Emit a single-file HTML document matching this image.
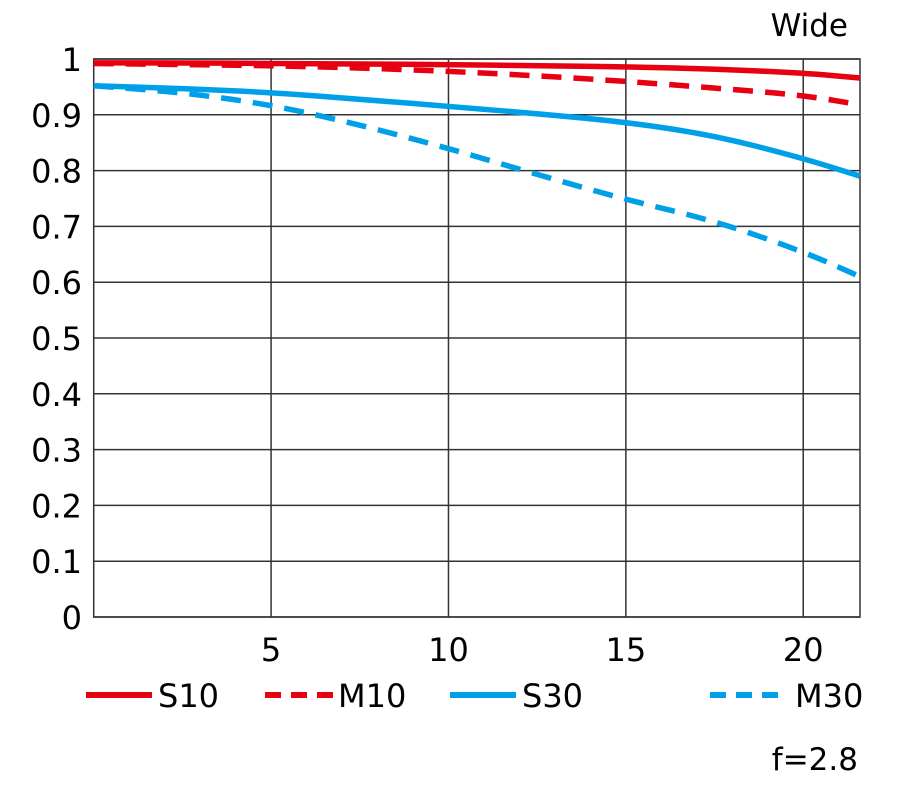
<!DOCTYPE html>
<html><head><meta charset="utf-8"><style>
body{margin:0;background:#fff;}
svg text{font-family:"DejaVu Sans","Liberation Sans",sans-serif;fill:#000;}
</style></head><body>
<svg id="chart" width="900" height="787" xmlns="http://www.w3.org/2000/svg">
<g id="grid"></g><g id="series"></g><g id="labels"></g>
<text x="848" y="36" font-size="31" text-anchor="end">Wide</text>
<text x="858" y="770" font-size="31" text-anchor="end">f=2.8</text>
<g>
<line x1="86" y1="695" x2="152" y2="695" stroke="#e60012" stroke-width="6"/>
<text x="158" y="707" font-size="32">S10</text>
<line x1="265" y1="695" x2="333" y2="695" stroke="#e60012" stroke-width="6" stroke-dasharray="16 10"/>
<text x="338" y="707" font-size="32">M10</text>
<line x1="450" y1="695" x2="516" y2="695" stroke="#00a0e9" stroke-width="6"/>
<text x="522" y="707" font-size="32">S30</text>
<line x1="710" y1="695" x2="788" y2="695" stroke="#00a0e9" stroke-width="6" stroke-dasharray="16 10"/>
<text x="795" y="707" font-size="32">M30</text>
</g>
</svg>
<script>
const xs=[0,2.5,5,7.5,10,12.5,15,17.5,20,21.6];
const s10=[0.993,0.993,0.992,0.991,0.99,0.988,0.986,0.982,0.975,0.966];
const m10=[0.992,0.99,0.988,0.984,0.978,0.97,0.96,0.948,0.935,0.918];
const s30=[0.952,0.947,0.94,0.928,0.915,0.902,0.887,0.863,0.822,0.79];
const m30=[0.952,0.94,0.918,0.882,0.84,0.793,0.748,0.71,0.655,0.61];
const xTicks=[5,10,15,20];
const yTicks=[0,0.1,0.2,0.3,0.4,0.5,0.6,0.7,0.8,0.9,1];
const yTickLabels=["0","0.1","0.2","0.3","0.4","0.5","0.6","0.7","0.8","0.9","1"];
const X0=93.7,X1=860,Y0=617,Y1=59,XMAX=21.6;
const sx=v=>X0+v/XMAX*(X1-X0), sy=v=>Y0-v*(Y0-Y1);
const NS="http://www.w3.org/2000/svg";
function mk(tag,attrs,parent){const e=document.createElementNS(NS,tag);for(const k in attrs)e.setAttribute(k,attrs[k]);document.getElementById(parent).appendChild(e);return e;}
yTicks.forEach((t,i)=>{
 const l=mk('line',{x1:X0,x2:X1,y1:sy(t),y2:sy(t),stroke:'#333','stroke-width':1.5},'grid');
 
 
 const tx=mk('text',{x:82,y:sy(t)+12,'font-size':32,'text-anchor':'end'},'labels');
 tx.textContent=yTickLabels[i];
 
 
});
xTicks.forEach(t=>{
 const l=mk('line',{x1:sx(t),x2:sx(t),y1:Y1,y2:Y0,stroke:'#333','stroke-width':1.5},'grid');
 
 
 const tx=mk('text',{x:sx(t),y:661,'font-size':32,'text-anchor':'middle'},'labels');
 tx.textContent=String(t);
 
 
});
const fr=mk('rect',{x:X0,y:Y1,width:X1-X0,height:Y0-Y1,fill:'none',stroke:'#333','stroke-width':1.5},'grid');


function line(vals,color,dash,name){
 let d='';
 vals.forEach((v,i)=>{
  const x=sx(xs[i]),y=sy(v);
  if(i===0)d+='M'+x+','+y;
  else{const px=sx(xs[i-1]),py=sy(vals[i-1]);const mx=(px+x)/2;d+=' Q'+px+','+py+' '+mx+','+(py+y)/2;}
 });
 const n=vals.length-1;d+=' T'+sx(xs[n])+','+sy(vals[n]);
 const p=mk('path',{d:d,fill:'none',stroke:color,'stroke-width':5.5,'stroke-dasharray':dash},'series');
 
 
}
line(s30,'#00a0e9','none','series-s30');
line(m30,'#00a0e9','20 12','series-m30');
line(s10,'#e60012','none','series-s10');
line(m10,'#e60012','20 12','series-m10');
</script>
</body></html>
